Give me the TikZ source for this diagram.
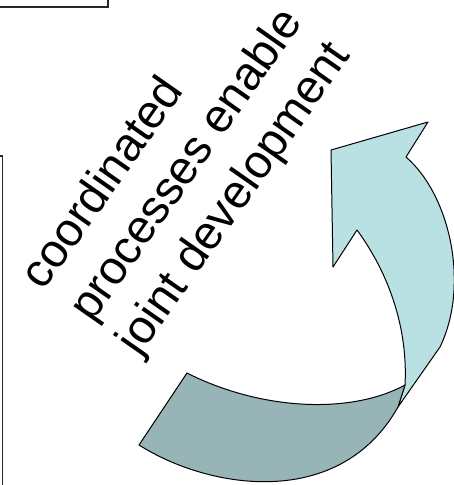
\documentclass[tikz,border=0pt]{standalone}
\usepackage{fontspec}
\setmainfont{Liberation Sans}
\definecolor{lightband}{RGB}{185,224,227}
\definecolor{darkband}{RGB}{151,180,183}
\definecolor{frameline}{RGB}{40,40,40}
\begin{document}
\begin{tikzpicture}[x=1pt,y=-1pt,
  band/.style={draw=black, line width=1pt, line join=round},
  framebox/.style={draw=frameline, line width=1.5pt},
  label/.style={align=center, font=\fontsize{47}{58}\selectfont, inner sep=0pt}]
\useasboundingbox (0,0) rectangle (454,485);
\begin{scope}
\clip (0,0) rectangle (454,485);
% partial frames
\draw[framebox] (-10,-10) rectangle (108,7);
\draw[framebox] (-20,156) rectangle (2.5,500);
% light band (front of arrow)
\draw[band, fill=lightband]
  (428,122) -- (331,150) -- (333,267) -- (357,230)
  .. controls (390,275) and (408,330) .. (405,385)
  -- (398,407) -- (440,347)
  .. controls (470,285) and (450,195) .. (406,157)
  -- cycle;
% dark band (back of arrow)
\draw[band, fill=darkband]
  (405,385) .. controls (350,415) and (260,410) .. (187,373)
  -- (139,445)
  .. controls (210,490) and (340,510) .. (398,407)
  -- cycle;
\end{scope}
\node[label, rotate=55] (txt) at (188,166)
  {coordinated\hspace*{126pt}\\processes enable\\joint development};
\end{tikzpicture}
\end{document}
